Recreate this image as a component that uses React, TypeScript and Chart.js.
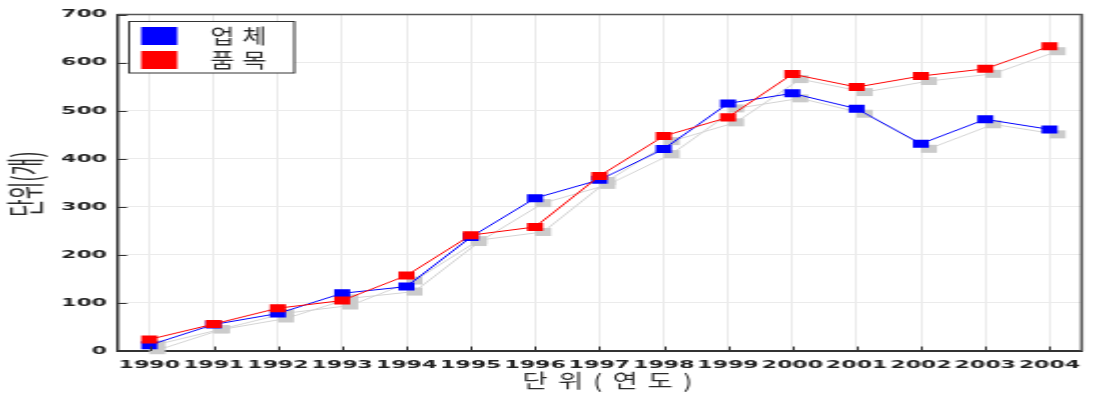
import { useEffect, useRef } from "react";
import { Chart, registerables } from "chart.js";

Chart.register(...registerables);

const YEARS = ["1990", "1991", "1992", "1993", "1994", "1995", "1996", "1997", "1998", "1999", "2000", "2001", "2002", "2003", "2004"];
const COMPANIES = [12, 55, 78, 120, 134, 237, 318, 356, 420, 515, 536, 504, 431, 482, 461];
const ITEMS = [24, 56, 89, 105, 157, 241, 258, 364, 447, 486, 576, 549, 572, 587, 634];
const Y_TICKS = [0, 100, 200, 300, 400, 500, 600, 700];
const SERIES_LABELS = ["업체", "품목"];
const SERIES_COLORS = ["#0000ff", "#ff0000"];
const X_TITLE = "단위(연도)";
const Y_TITLE = "단위(개)";

const KR_FONT = '"Noto Sans CJK KR", "Noto Sans", sans-serif';

const decor = {
  id: "decor",
  beforeDatasetsDraw(chart: any) {
    const ctx = chart.ctx;
    ctx.save();
    chart.data.datasets.forEach((_ds: any, i: number) => {
      const pts = chart.getDatasetMeta(i).data;
      ctx.strokeStyle = "#d4d4d4";
      ctx.lineWidth = 1;
      ctx.beginPath();
      pts.forEach((p: any, j: number) => {
        const x = p.x + 4;
        const y = p.y + 5;
        if (j === 0) ctx.moveTo(x, y);
        else ctx.lineTo(x, y);
      });
      ctx.stroke();
      ctx.fillStyle = "#cbcbcb";
      pts.forEach((p: any) => ctx.fillRect(p.x, p.y + 1, 8, 8));
    });
    ctx.restore();
  },
  afterDraw(chart: any) {
    const ctx = chart.ctx;
    const { left, right, top, bottom } = chart.chartArea;
    const xs = chart.scales.x;
    const ys = chart.scales.y;
    ctx.save();
    // frame top/right
    ctx.strokeStyle = "#555";
    ctx.lineWidth = 1.5;
    ctx.beginPath();
    ctx.moveTo(left, top);
    ctx.lineTo(right, top);
    ctx.lineTo(right, bottom);
    ctx.stroke();
    // inward ticks
    ctx.strokeStyle = "#333";
    ctx.lineWidth = 1;
    ctx.beginPath();
    Y_TICKS.forEach((v) => {
      const y = Math.round(ys.getPixelForValue(v)) + 0.5;
      ctx.moveTo(left, y);
      ctx.lineTo(left + 5, y);
    });
    YEARS.forEach((_y, i) => {
      const x = Math.round(xs.getPixelForValue(i)) + 0.5;
      ctx.moveTo(x, bottom);
      ctx.lineTo(x, bottom - 4.5);
    });
    ctx.stroke();

    // legend
    const lx = 64.5, ly = 21.5, lw = 82.5, lh = 51.5;
    ctx.fillStyle = "#fff";
    ctx.fillRect(lx, ly, lw, lh);
    ctx.strokeStyle = "#333";
    ctx.lineWidth = 1;
    ctx.strokeRect(lx, ly, lw, lh);
    chart.data.datasets.forEach((ds: any, i: number) => {
      const cy = 36 + i * 24;
      ctx.fillStyle = ds.backgroundColor;
      ctx.fillRect(70.5, cy - 9, 18, 18);
      ctx.save();
      ctx.translate(105, cy);
      ctx.scale(0.66, 1);
      ctx.letterSpacing = "6px";
      ctx.font = `20px ${KR_FONT}`;
      ctx.fillStyle = "#2a2a2a";
      ctx.textAlign = "left";
      ctx.textBaseline = "middle";
      ctx.fillText(ds.label, 0, 0);
      ctx.restore();
    });

    // x title
    ctx.save();
    ctx.translate(261, 381);
    ctx.scale(0.72, 1);
    ctx.letterSpacing = "7px";
    ctx.font = `19px ${KR_FONT}`;
    ctx.fillStyle = "#2a2a2a";
    ctx.textAlign = "left";
    ctx.textBaseline = "middle";
    ctx.fillText(X_TITLE, 0, 0);
    ctx.restore();

    // y title
    ctx.save();
    ctx.translate(13, 184);
    ctx.rotate(-Math.PI / 2);
    ctx.font = `19px ${KR_FONT}`;
    ctx.fillStyle = "#2a2a2a";
    ctx.textAlign = "center";
    ctx.textBaseline = "middle";
    ctx.fillText(Y_TITLE, 0, 0);
    ctx.restore();

    ctx.restore();
  },
};

export default function App() {
  const ref = useRef<HTMLCanvasElement>(null);
  useEffect(() => {
    const tickFont = { family: '"DejaVu Sans", sans-serif', size: 11, weight: "bold" as const };
    const chart = new Chart(ref.current as HTMLCanvasElement, {
      type: "line",
      data: {
        labels: YEARS,
        datasets: [
          {
            label: SERIES_LABELS[0],
            data: COMPANIES,
            borderColor: SERIES_COLORS[0],
            backgroundColor: SERIES_COLORS[0],
            borderWidth: 1,
            pointStyle: "rect",
            pointRadius: 5.66,
            pointBorderWidth: 0,
            pointBackgroundColor: SERIES_COLORS[0],
            tension: 0,
            order: 1,
          },
          {
            label: SERIES_LABELS[1],
            data: ITEMS,
            borderColor: SERIES_COLORS[1],
            backgroundColor: SERIES_COLORS[1],
            borderWidth: 1,
            pointStyle: "rect",
            pointRadius: 5.66,
            pointBorderWidth: 0,
            pointBackgroundColor: SERIES_COLORS[1],
            tension: 0,
            order: 0,
          },
        ],
      },
      options: {
        responsive: false,
        animation: false,
        devicePixelRatio: 1,
        layout: { padding: { top: 14.5, right: 1, left: 0, bottom: 0 } },
        plugins: {
          legend: { display: false },
          tooltip: { enabled: false },
        },
        scales: {
          x: {
            type: "category",
            offset: true,
            grid: { color: "#ebebeb", lineWidth: 1, drawTicks: false },
            border: { color: "#333", width: 2 },
            ticks: { font: tickFont, color: "#222", padding: 8, maxRotation: 0, autoSkip: false },
            afterFit: (s: any) => {
              s.height = 46;
              s.paddingLeft = 0;
              s.paddingRight = 0;
            },
          },
          y: {
            min: 0,
            max: 700,
            grid: { color: "#ebebeb", lineWidth: 1, drawTicks: false },
            border: { color: "#333", width: 1.5 },
            ticks: { font: tickFont, color: "#222", padding: 5 },
            afterBuildTicks: (s: any) => {
              s.ticks = Y_TICKS.map((v) => ({ value: v }));
            },
            afterFit: (s: any) => {
              s.width = 58.5;
            },
          },
        },
      },
      plugins: [decor],
    });
    return () => chart.destroy();
  }, []);
  return (
    <div style={{ position: "fixed", left: 0, top: 0, width: 1093, height: 397, background: "#fff" }}>
      <canvas ref={ref} width={546} height={397} style={{ display: "block", width: "1093px", height: "397px" }} />
    </div>
  );
}
